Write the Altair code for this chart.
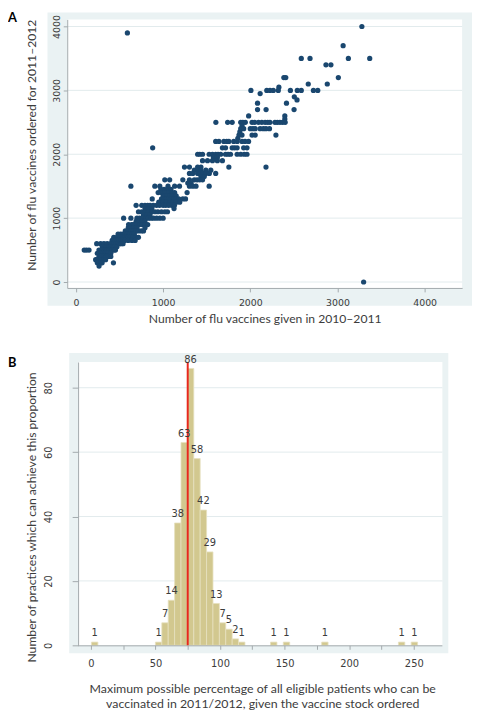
import altair as alt
import pandas as pd

# ---------------- Panel A data ----------------
ordered_rows = [4000, 3900, 3700, 3500, 3400, 3200, 3100, 3050, 3000, 2950,
                2900, 2850, 2800, 2700, 2600, 2550, 2500, 2450, 2400, 2350,
                2300, 2250, 2200, 2100, 2000, 1950, 1900, 1800, 1750, 1700,
                1650, 1600, 1550, 1500, 1450, 1400, 1350, 1300, 1250, 1200,
                1150, 1100, 1050, 1000, 950, 900, 850, 800, 750, 700,
                650, 600, 550, 500, 450, 400, 350, 300, 250, 0]

given_by_row = [
    [3280],
    [590],
    [3065],
    [2585, 2685, 3125, 3370],
    [2868, 2925],
    [2385, 2407, 3010],
    [2665, 2883],
    [2328],
    [2007, 2189, 2226, 2264, 2321, 2460, 2539, 2585, 2724, 2774],
    [2113],
    [2505],
    [2536],
    [2083, 2415],
    [2083, 2181, 2502],
    [1981, 2396],
    [2396],
    [1605, 1740, 1792, 1890, 1915, 1943, 2020, 2050, 2094, 2132, 2170, 2200, 2226, 2283, 2310, 2340, 2370, 2400],
    [1905],
    [1890, 1924, 2000, 2030, 2056, 2113, 2150, 2180, 2220],
    [1880],
    [1870, 1905, 2020, 2056, 2294],
    [1857],
    [1603, 1640, 1697, 1730, 1754, 1810, 1850, 1905, 1940, 1980],
    [880, 1680, 1716, 1792, 1820, 1849, 1924, 1962],
    [1396, 1420, 1452, 1528, 1566, 1603, 1630, 1660, 1716, 1745, 1773, 1849, 1890, 1930, 1962],
    [1577, 1622],
    [1452, 1509, 1566, 1622, 1680],
    [1245, 1302, 1396, 1434, 1754, 2180],
    [1358, 1396, 1434, 1490, 1547],
    [1302, 1340, 1396, 1426, 1453, 1490, 1530, 1603],
    [1434, 1472],
    [1019, 1075, 1226, 1302, 1358, 1390, 1420, 1452],
    [1283, 1321],
    [630, 905, 962, 1056, 1132, 1188, 1302, 1340, 1377, 1528],
    [974, 1011, 1050, 1090],
    [943, 981, 1020, 1064, 1100, 1132, 1275],
    [1000, 1011, 1042, 1075, 1100, 1150],
    [875, 981, 1011, 1038, 1064, 1094, 1120, 1150, 1180, 1226, 1257],
    [950, 1000, 1038, 1075, 1113, 1150, 1190],
    [690, 755, 792, 823, 850, 887, 925, 960, 1000, 1030, 1064, 1100, 1130],
    [792, 830, 870, 1125],
    [717, 755, 792, 830, 868, 906, 940, 981, 1020, 1050],
    [774, 811, 850],
    [547, 630, 700, 730, 762, 800, 830, 860, 890, 925, 962, 1000],
    [690, 717, 755, 790],
    [604, 640, 660, 698, 730, 760, 792, 823],
    [600, 623, 660, 700, 792],
    [566, 596, 615, 634, 660, 687, 717, 750, 775],
    [483, 513, 540, 566, 590, 604, 620, 640, 670],
    [434, 470, 491, 510, 528, 545, 566, 585, 600, 623, 650, 687, 717],
    [415, 453, 470, 490, 515, 540, 560, 600, 642, 679],
    [238, 283, 321, 358, 396, 434, 460, 480, 500, 520, 540],
    [302, 340, 360, 380, 400, 420, 440, 470],
    [95, 121, 150, 264, 302, 340, 360, 380, 400, 415, 435, 453],
    [245, 265, 283, 309, 330, 350, 370, 400],
    [264, 283, 302, 320, 340, 350, 370, 400],
    [226, 245, 264, 283, 300, 321, 340],
    [245, 265, 283, 300, 430],
    [265],
    [3300],
]

a_ticks = [0, 1000, 2000, 3000, 4000]

# ---------------- Panel B data (histogram) ----------------
bin_start = [0.5, 50.0, 54.95, 59.9, 64.85, 69.8, 74.75, 79.7, 84.65, 89.6,
             94.55, 99.5, 104.45, 109.4, 114.35, 139.1, 149.0, 178.7, 238.1, 248.0]
bin_count = [1, 1, 7, 14, 38, 63, 86, 58, 42, 29,
             13, 7, 5, 2, 1, 1, 1, 1, 1, 1]
bin_width = 4.95
mean_line = [75]
b_xticks = [0, 25, 50, 75, 100, 125, 150, 175, 200, 225, 250]
b_yticks = [0, 20, 40, 60, 80]

# ---------------- build tables ----------------
rows = []
for yv, xs in zip(ordered_rows, given_by_row):
    for xv in xs:
        rows.append({"given": xv, "ordered": yv})
dfA = pd.DataFrame(rows)

dfB = pd.DataFrame({"start": bin_start, "count": bin_count})
dfB["end"] = dfB["start"] + bin_width
dfB["mid"] = dfB["start"] + bin_width / 2
dfB["base"] = 0

one = pd.DataFrame({"k": [0]})

# ---------------- style ----------------
LIGHT = "#EAF2F3"
NAVY = "#1A476F"
KHAKI = "#D2C88F"
KHAKI_EDGE = "#E7E1C0"
RED = "#E8281E"
GRID = "#E2EBED"
AXIS = "#A3AAAD"
TXT = "#3C3C3C"
TITLE_FONT = "Lato"
LABEL_FONT = "DejaVu Sans"

WA, HA = 400, 272
WB, HB = 380, 287
B_IN = 11  # B plot's left edge sits 11px to the right of A's


def bg(x0, w, h, left, top, right, bottom):
    blue = alt.Chart(one).mark_rect(color=LIGHT).encode(
        x=alt.value(x0 - left), x2=alt.value(w + right),
        y=alt.value(-top), y2=alt.value(h + bottom))
    white = alt.Chart(one).mark_rect(color="white").encode(
        x=alt.value(x0), x2=alt.value(w), y=alt.value(0), y2=alt.value(h))
    return blue, white


# ---------------- Panel A ----------------
xA = alt.Scale(domain=[-100, 4430], nice=False, zero=False)
yA = alt.Scale(domain=[-93, 4111], nice=False, zero=False)

axAx = alt.Axis(values=a_ticks, grid=False, zindex=1,
                title="Number of flu vaccines given in 2010–2011",
                titleFont=TITLE_FONT, titleFontSize=12.3, titleFontWeight="normal",
                titleColor=TXT, titleY=31, titleBaseline="middle",
                labelFont=LABEL_FONT, labelFontSize=9.5, labelColor=TXT,
                labelBaseline="middle", labelPadding=11, labelFlush=False,
                labelOverlap=False, tickSize=4, tickColor=AXIS,
                domainColor=AXIS, format="d")
axAy = alt.Axis(values=a_ticks, grid=False, zindex=1,
                title="Number of flu vaccines ordered for 2011–2012",
                titleFont=TITLE_FONT, titleFontSize=12.3, titleFontWeight="normal",
                titleColor=TXT, titleX=-36, titleY=127, titleAngle=-90,
                titleBaseline="middle", titleAlign="center",
                labelFont=LABEL_FONT, labelFontSize=9.5, labelColor=TXT,
                labelAngle=-90, labelAlign="center", labelBaseline="middle",
                labelPadding=7, labelFlush=False, labelOverlap=False,
                tickSize=4, tickColor=AXIS, domainColor=AXIS, format="d")

blueA, whiteA = bg(0, WA, HA, 20, 7, 10, 18)
extA = alt.Chart(one).mark_rect(opacity=0).encode(
    x=alt.value(0), x2=alt.value(10), y=alt.value(0), y2=alt.value(HA + 45))

gridA = alt.Chart(pd.DataFrame({"v": a_ticks})).mark_rule(color=GRID, strokeWidth=1).encode(
    y=alt.Y("v:Q", scale=yA, axis=axAy), x=alt.value(0), x2=alt.value(WA))

pointsA = alt.Chart(dfA).mark_circle(size=28, color=NAVY, opacity=1).encode(
    x=alt.X("given:Q", scale=xA, axis=axAx),
    y=alt.Y("ordered:Q", scale=yA, axis=axAy),
)

labelA = alt.Chart(one).mark_text(text="A", align="left", baseline="top", font=TITLE_FONT,
                                  fontSize=13, fontWeight="bold", color="black").encode(
    x=alt.value(-60), y=alt.value(-7))

chartA = alt.layer(blueA, whiteA, extA, gridA, pointsA, labelA).properties(width=WA, height=HA)

# ---------------- Panel B ----------------
xB = alt.Scale(domain=[-18.27, 272.14], nice=False, zero=False)
yB = alt.Scale(domain=[0, 88], nice=False, zero=False)

axBx = alt.Axis(values=b_xticks, grid=False, zindex=1, domain=False,
                labelExpr="datum.value % 50 == 0 ? datum.label : ''",
                title=["Maximum possible percentage of all eligible patients who can be",
                       "vaccinated in 2011/2012, given the vaccine stock ordered"],
                titleFont=TITLE_FONT, titleFontSize=12.5, titleFontWeight="normal",
                titleColor=TXT, titleX=B_IN + (WB - B_IN) / 2 + 2, titleY=44,
                titleBaseline="middle", titleLineHeight=14.5,
                labelFont=LABEL_FONT, labelFontSize=10, labelColor=TXT,
                labelBaseline="middle", labelPadding=14, labelFlush=False,
                labelOverlap=False, tickSize=4, tickColor=AXIS)
axBy = alt.Axis(values=b_yticks, grid=False, zindex=1, offset=-B_IN,
                title="Number of practices which can achieve this proportion",
                titleFont=TITLE_FONT, titleFontSize=12.3, titleFontWeight="normal",
                titleColor=TXT, titleX=-47, titleY=157, titleAngle=-90,
                titleBaseline="middle", titleAlign="center",
                labelFont=LABEL_FONT, labelFontSize=10, labelColor=TXT,
                labelAngle=-90, labelAlign="center", labelBaseline="middle",
                labelPadding=24, labelFlush=False, labelOverlap=False,
                tickSize=6, tickColor=AXIS, domainColor=AXIS)

blueB, whiteB = bg(B_IN, WB, HB, 9, 9, 6, 8)

gridB = alt.Chart(pd.DataFrame({"v": b_yticks[1:]})).mark_rule(color=GRID, strokeWidth=1).encode(
    y=alt.Y("v:Q", scale=yB, axis=axBy), x=alt.value(B_IN), x2=alt.value(WB))

barsB = alt.Chart(dfB).mark_rect(fill=KHAKI, stroke=KHAKI_EDGE, strokeWidth=0.8).encode(
    x=alt.X("start:Q", scale=xB, axis=axBx),
    x2="end:Q",
    y=alt.Y("count:Q", scale=yB, axis=axBy),
    y2="base:Q",
)

baseLineB = alt.Chart(one).mark_rule(color=AXIS, strokeWidth=1).encode(
    x=alt.value(B_IN), x2=alt.value(WB), y=alt.value(HB + 0.5))

textB = alt.Chart(dfB).mark_text(font=LABEL_FONT, fontSize=10, color=TXT, baseline="middle",
                                 dy=-9).encode(
    x=alt.X("mid:Q", scale=xB, axis=axBx),
    y=alt.Y("count:Q", scale=yB, axis=axBy),
    text="count:Q")

redB = alt.Chart(pd.DataFrame({"m": mean_line})).mark_rule(color=RED, strokeWidth=2).encode(
    x=alt.X("m:Q", scale=xB, axis=axBx), y=alt.value(0), y2=alt.value(HB))

labelB = alt.Chart(one).mark_text(text="B", align="left", baseline="top", font=TITLE_FONT,
                                  fontSize=13, fontWeight="bold", color="black").encode(
    x=alt.value(-60), y=alt.value(-5))

chartB = alt.layer(blueB, whiteB, gridB, barsB, baseLineB, redB, textB, labelB).properties(
    width=WB, height=HB)

chart = alt.vconcat(chartA, chartB, spacing=21).properties(padding=0).configure_view(stroke=None)

chart.save("out.html", embed_options={"renderer": "svg", "actions": False})
